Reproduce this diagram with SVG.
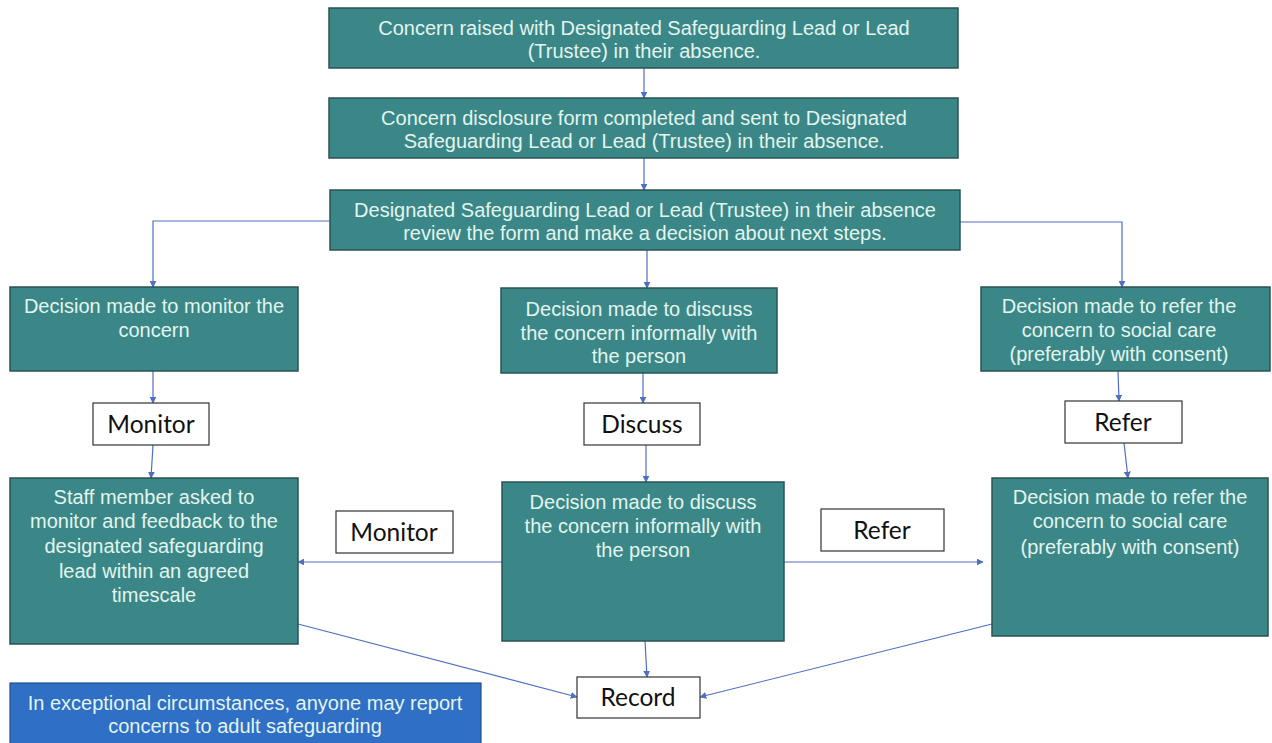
<svg xmlns="http://www.w3.org/2000/svg" width="1272" height="743" viewBox="0 0 1272 743">
<defs>
<marker id="ah" viewBox="0 0 10 10" refX="9" refY="5" markerWidth="7" markerHeight="7" orient="auto" markerUnits="userSpaceOnUse">
<path d="M0,0 L10,5 L0,10 z" fill="#4f6fc0"/>
</marker>
<style>
.teal{fill:#3b8787;stroke:#2b5353;stroke-width:1.5}
.lbl{fill:#ffffff;stroke:#333333;stroke-width:1.2}
.tt{font-family:"Liberation Sans",Arial,sans-serif;font-size:20px;fill:#e2f5ef;text-anchor:middle}
.lt{font-family:Lato,"Open Sans",sans-serif;font-size:24.5px;fill:#111111;text-anchor:middle}
.con{stroke:#4f6fc0;stroke-width:1.2;fill:none}
</style>
</defs>
<rect width="1272" height="743" fill="#ffffff"/>
<g id="connectors">
<line class="con" x1="644" y1="68" x2="644" y2="98" marker-end="url(#ah)"/>
<line class="con" x1="644" y1="158" x2="644" y2="190" marker-end="url(#ah)"/>
<polyline class="con" points="330,221 153,221 153,287" marker-end="url(#ah)"/>
<line class="con" x1="647" y1="250" x2="647" y2="288" marker-end="url(#ah)"/>
<polyline class="con" points="960,222 1122,222 1122,287" marker-end="url(#ah)"/>
<line class="con" x1="153" y1="371" x2="153" y2="403" marker-end="url(#ah)"/>
<line class="con" x1="643" y1="373" x2="643" y2="403" marker-end="url(#ah)"/>
<line class="con" x1="1118" y1="371" x2="1119" y2="401" marker-end="url(#ah)"/>
<line class="con" x1="153" y1="445" x2="151" y2="478" marker-end="url(#ah)"/>
<line class="con" x1="646" y1="445" x2="646" y2="482" marker-end="url(#ah)"/>
<line class="con" x1="1124" y1="443" x2="1128" y2="478" marker-end="url(#ah)"/>
<line class="con" x1="502" y1="562" x2="298" y2="562" marker-end="url(#ah)"/>
<line class="con" x1="784" y1="562" x2="983" y2="562" marker-end="url(#ah)"/>
<line class="con" x1="298" y1="624" x2="577" y2="697" marker-end="url(#ah)"/>
<line class="con" x1="645" y1="641" x2="647" y2="677" marker-end="url(#ah)"/>
<line class="con" x1="992" y1="624" x2="700" y2="697" marker-end="url(#ah)"/>
</g>
<g id="n1"><rect class="teal" x="329" y="8" width="629" height="60"/>
<text class="tt" x="644" y="35">Concern raised with Designated Safeguarding Lead or Lead</text>
<text class="tt" x="644" y="58">(Trustee) in their absence.</text></g>
<g id="n2"><rect class="teal" x="329" y="98" width="629" height="60"/>
<text class="tt" x="644" y="125">Concern disclosure form completed and sent to Designated</text>
<text class="tt" x="644" y="148">Safeguarding Lead or Lead (Trustee) in their absence.</text></g>
<g id="n3"><rect class="teal" x="330" y="190" width="630" height="60"/>
<text class="tt" x="645" y="217">Designated Safeguarding Lead or Lead (Trustee) in their absence</text>
<text class="tt" x="645" y="240">review the form and make a decision about next steps.</text></g>
<g id="n4"><rect class="teal" x="10" y="287" width="288" height="84"/>
<text class="tt" x="154" y="313">Decision made to monitor the</text>
<text class="tt" x="154" y="337">concern</text></g>
<g id="n5"><rect class="teal" x="501" y="288" width="276" height="85"/>
<text class="tt" x="639" y="316">Decision made to discuss</text>
<text class="tt" x="639" y="340">the concern informally with</text>
<text class="tt" x="639" y="363">the person</text></g>
<g id="n6"><rect class="teal" x="981" y="287" width="289" height="84"/>
<text class="tt" x="1119" y="313">Decision made to refer the</text>
<text class="tt" x="1119" y="337">concern to social care</text>
<text class="tt" x="1119" y="361">(preferably with consent)</text></g>
<g id="n7"><rect class="lbl" x="93" y="403" width="116" height="42"/>
<text class="lt" x="151" y="433">Monitor</text></g>
<g id="n8"><rect class="lbl" x="584" y="403" width="116" height="42"/>
<text class="lt" x="642" y="433">Discuss</text></g>
<g id="n9"><rect class="lbl" x="1065" y="401" width="117" height="42"/>
<text class="lt" x="1123" y="431">Refer</text></g>
<g id="n10"><rect class="teal" x="10" y="478" width="288" height="166"/>
<text class="tt" x="154" y="504">Staff member asked to</text>
<text class="tt" x="154" y="528">monitor and feedback to the</text>
<text class="tt" x="154" y="553">designated safeguarding</text>
<text class="tt" x="154" y="578">lead within an agreed</text>
<text class="tt" x="154" y="602">timescale</text></g>
<g id="n11"><rect class="teal" x="502" y="482" width="282" height="159"/>
<text class="tt" x="643" y="509">Decision made to discuss</text>
<text class="tt" x="643" y="533">the concern informally with</text>
<text class="tt" x="643" y="557">the person</text></g>
<g id="n12"><rect class="teal" x="992" y="478" width="276" height="158"/>
<text class="tt" x="1130" y="504">Decision made to refer the</text>
<text class="tt" x="1130" y="528">concern to social care</text>
<text class="tt" x="1130" y="554">(preferably with consent)</text></g>
<g id="n13"><rect class="lbl" x="336" y="511" width="117" height="42"/>
<text class="lt" x="394" y="541">Monitor</text></g>
<g id="n14"><rect class="lbl" x="821" y="509" width="123" height="42"/>
<text class="lt" x="882" y="539">Refer</text></g>
<g id="n15"><rect class="lbl" x="577" y="677" width="123" height="41"/>
<text class="lt" x="638" y="706">Record</text></g>
<g id="n16"><rect x="10" y="683" width="471" height="62" fill="#2f6fc5" stroke="#234f8a" stroke-width="1.2"/>
<text class="tt" x="245" y="710">In exceptional circumstances, anyone may report</text>
<text class="tt" x="245" y="733">concerns to adult safeguarding</text></g>
</svg>
